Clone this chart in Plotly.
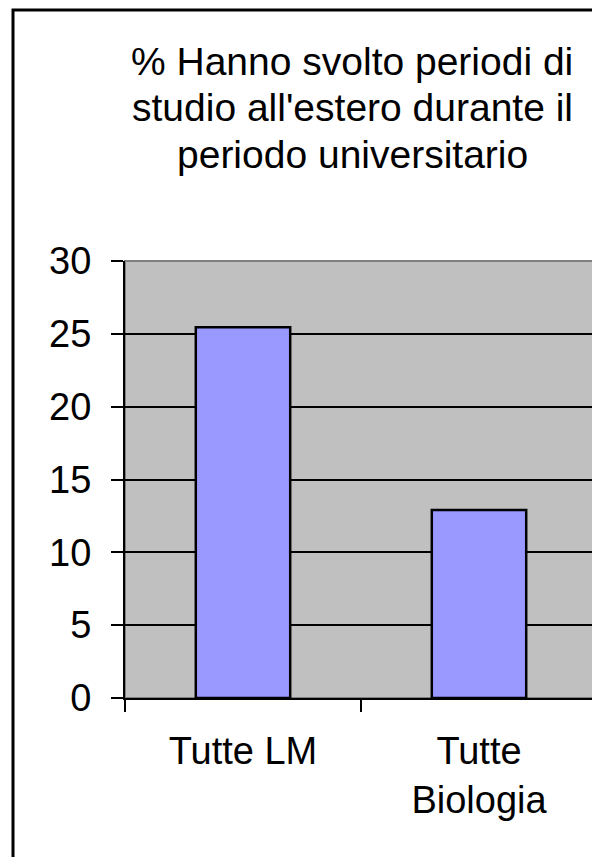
import plotly.graph_objects as go

categories = ["Tutte LM", "Tutte<br>Biologia"]
values = [25.45, 12.9]
y_ticks = [0, 5, 10, 15, 20, 25, 30]
title_lines = [
    "% Hanno svolto periodi di",
    "studio all'estero durante il",
    "periodo universitario",
]

FONT = "Liberation Sans, Arial, sans-serif"

# plot area in figure pixels (page has an 8px body margin)
PLOT_TOP, PLOT_BOTTOM = 253, 690
PLOT_LEFT, PLOT_RIGHT = 117, 589
PH = PLOT_BOTTOM - PLOT_TOP
PW = PLOT_RIGHT - PLOT_LEFT


def py(y_px):
    return (PLOT_BOTTOM - y_px) / PH


def px(x_px):
    return (x_px - PLOT_LEFT) / PW


fig = go.Figure()

fig.add_trace(
    go.Bar(
        x=categories,
        y=values,
        width=0.4,
        marker=dict(color="#9999FF", line=dict(color="black", width=2.5)),
        showlegend=False,
    )
)

fig.update_layout(
    width=600,
    height=857,
    margin=dict(l=PLOT_LEFT, r=600 - PLOT_RIGHT, t=PLOT_TOP, b=857 - PLOT_BOTTOM),
    paper_bgcolor="white",
    plot_bgcolor="#C0C0C0",
    font=dict(family=FONT, size=38, color="black"),
    bargap=0.6,
)

# title, one annotation per line
for i, line in enumerate(title_lines):
    fig.add_annotation(
        text=line, xref="paper", yref="paper",
        x=px(344), y=py(53.5 + 46.5 * i),
        xanchor="center", yanchor="middle", showarrow=False,
        font=dict(family=FONT, size=39, color="black"),
    )

fig.update_yaxes(
    range=[0, 30],
    tickvals=y_ticks,
    showgrid=True,
    gridcolor="black",
    gridwidth=1.5,
    showline=True,
    linecolor="black",
    linewidth=2,
    ticks="outside",
    ticklen=12,
    tickcolor="black",
    tickwidth=2,
    zeroline=False,
    ticklabelstandoff=12,
)

fig.update_xaxes(
    showline=True,
    linecolor="black",
    linewidth=2,
    ticks="outside",
    ticklen=12,
    tickcolor="black",
    tickwidth=2,
    tickson="boundaries",
    showgrid=False,
    ticklabelstandoff=18,
)

# gray border on top and right of plot area
fig.add_shape(
    type="rect", xref="paper", yref="paper", x0=0, x1=1, y0=0, y1=1,
    line=dict(color="#808080", width=2), layer="below",
)
# outer chart frame (cut off at right and bottom)
fig.add_shape(
    type="rect", xref="paper", yref="paper",
    x0=px(5), x1=1.2, y0=-0.6, y1=py(2),
    line=dict(color="black", width=3),
)

fig.write_html("out.html")
